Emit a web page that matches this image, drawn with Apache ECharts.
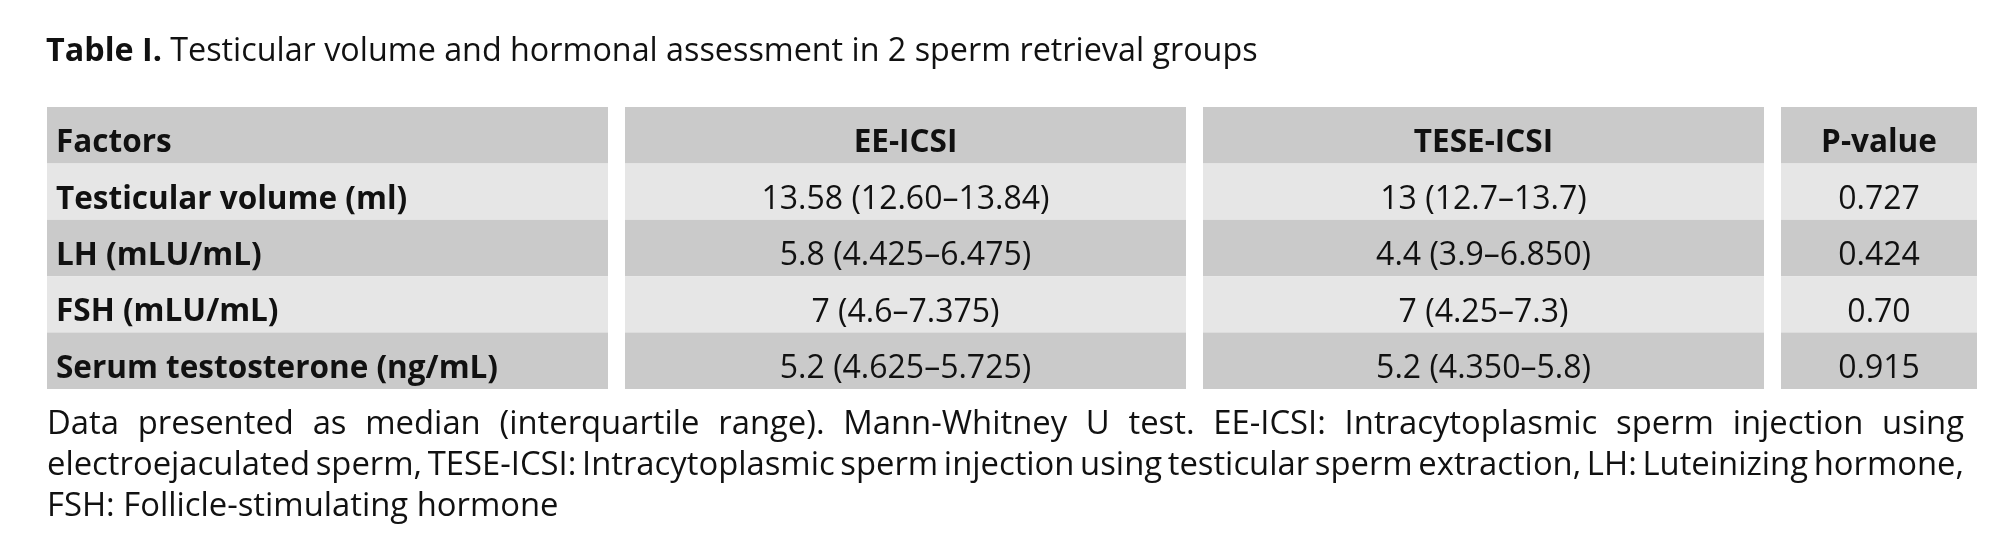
<!DOCTYPE html>
<html>
<head>
<meta charset="utf-8">
<script src="https://cdn.jsdelivr.net/npm/echarts@6/dist/echarts.min.js"></script>
<style>
  html, body { margin: 0; padding: 0; background: #fff; }
  #main { width: 2000px; height: 543px; }
</style>
</head>
<body>
<div id="main"></div>
<script>
// table content
const headers = ['Factors', 'EE-ICSI', 'TESE-ICSI', 'P-value'];
const factors = ['Testicular volume (ml)', 'LH (mLU/mL)', 'FSH (mLU/mL)', 'Serum testosterone (ng/mL)'];
const eeIcsi = ['13.58 (12.60\u201313.84)', '5.8 (4.425\u20136.475)', '7 (4.6\u20137.375)', '5.2 (4.625\u20135.725)'];
const teseIcsi = ['13 (12.7\u201313.7)', '4.4 (3.9\u20136.850)', '7 (4.25\u20137.3)', '5.2 (4.350\u20135.8)'];
const pValues = ['0.727', '0.424', '0.70', '0.915'];
const rowIds = ['head', 'r1', 'r2', 'r3', 'r4'];

const titleBold = 'Table I.';
const titleText = 'Testicular volume and hormonal assessment in 2 sperm retrieval groups';
const noteLines = [
  'Data presented as median (interquartile range). Mann-Whitney U test. EE-ICSI: Intracytoplasmic sperm injection using',
  'electroejaculated sperm, TESE-ICSI: Intracytoplasmic sperm injection using testicular sperm extraction, LH: Luteinizing hormone,',
  'FSH: Follicle-stimulating hormone'
];

const FONT = '"Open Sans"';
const FS_BOLD = 31.5, FS_NORM = 32, FS_NOTE = 32.8;
const DARK = '#cacaca', LIGHT = '#e6e6e6';

const columns = [
  { left: 47, width: 561, align: 'left', values: factors, boldBody: true },
  { left: 625, width: 561, align: 'center', values: eeIcsi },
  { left: 1203, width: 561, align: 'center', values: teseIcsi },
  { left: 1781, width: 196, align: 'center', values: pValues }
];

const chart = echarts.init(document.getElementById('main'), null, { renderer: 'canvas' });

const grids = columns.map(c => ({ left: c.left, width: c.width, top: 107, height: 282 }));
const xAxes = columns.map((c, i) => ({ type: 'value', gridIndex: i, min: 0, max: 1, show: false }));
const yAxes = columns.map((c, i) => ({ type: 'category', gridIndex: i, data: rowIds, inverse: true, show: false }));

const series = columns.map((c, i) => {
  const texts = [headers[i]].concat(c.values);
  return {
    type: 'custom',
    xAxisIndex: i,
    yAxisIndex: i,
    silent: true,
    data: texts.map((t, r) => [0, r]),
    renderItem: function (params, api) {
      const r = params.dataIndex;
      const center = api.coord([0, r]);
      const size = api.size([1, 1]);
      const x = center[0], h = size[1], w = size[0];
      const y = center[1] - h / 2;
      const bold = r === 0 || c.boldBody;
      return {
        type: 'group',
        children: [
          { type: 'rect', shape: { x: x, y: y, width: w, height: h },
            style: { fill: r % 2 === 1 ? LIGHT : DARK } },
          { type: 'text',
            x: c.align === 'left' ? x + 9 : x + w / 2,
            y: center[1] + 8,
            style: {
              text: texts[r],
              fill: '#111',
              font: (bold ? 'bold ' + FS_BOLD : FS_NORM) + 'px ' + FONT,
              textAlign: c.align,
              textVerticalAlign: 'middle'
            } }
        ]
      };
    }
  };
});

// footnote: justify the first two lines word by word
const meas = document.createElement('canvas').getContext('2d');
meas.font = FS_NOTE + 'px ' + FONT;
const noteLeft = 47, noteRight = 1964;
const noteY = [425, 466, 507];
const graphics = [];
noteLines.forEach((line, li) => {
  const words = line.split(' ');
  const widths = words.map(wd => meas.measureText(wd).width);
  const total = widths.reduce((a, b) => a + b, 0);
  const justify = li < noteLines.length - 1;
  const gap = justify ? (noteRight - noteLeft - total) / (words.length - 1) : meas.measureText(' ').width;
  let x = noteLeft;
  words.forEach((wd, k) => {
    graphics.push({
      type: 'text', x: x, y: noteY[li],
      style: { text: wd, font: FS_NOTE + 'px ' + FONT, fill: '#111', textVerticalAlign: 'middle' }
    });
    x += widths[k] + gap;
  });
});

chart.setOption({
  animation: false,
  title: {
    left: 41, top: 31,
    text: '{b|' + titleBold + '} ' + titleText,
    textStyle: {
      fontFamily: FONT, fontSize: 32.3, fontWeight: 'normal', color: '#111',
      rich: { b: { fontFamily: FONT, fontSize: 32.3, fontWeight: 'bold', color: '#111' } }
    }
  },
  grid: grids,
  xAxis: xAxes,
  yAxis: yAxes,
  series: series,
  graphic: graphics
});
</script>
</body>
</html>
